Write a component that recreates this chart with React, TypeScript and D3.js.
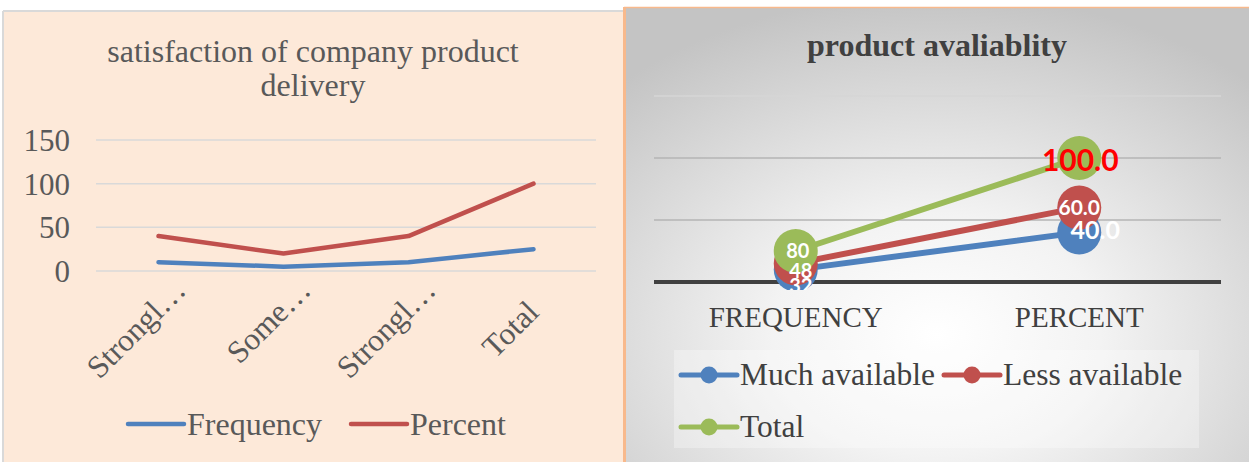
import React from "react";
import * as d3 from "d3";

// ---------- data: left chart ----------
const leftTitleLines = ["satisfaction of company product", "delivery"];
const leftCategories = ["Strongl…", "Some…", "Strongl…", "Total"];
const frequencyValues = [10, 5, 10, 25];
const percentValues = [40, 20, 40, 100];
const leftTicks = [0, 50, 100, 150];
const leftSeriesNames = ["Frequency", "Percent"];

// ---------- data: right chart ----------
const rightTitle = "product avaliablity";
const rightCategories = ["FREQUENCY", "PERCENT"];
const rightSeriesNames = ["Much available", "Less available", "Total"];
const muchAvailable = [10, 40];
const lessAvailable = [15, 60];
const totalAvailable = [25, 100];
const muchLabels = ["32", "40.0"];
const lessLabels = ["48", "60.0"];
const totalLabels = ["80", "100.0"];
const rightTicks = [0, 50, 100, 150];

// ---------- styles ----------
const BLUE = "#4F81BD";
const RED = "#C0504D";
const GREEN = "#9BBB59";
const SERIF = "'Liberation Serif', 'Times New Roman', serif";
const SANS = "Lato, 'Open Sans', sans-serif";

// label styling per series, per point [frequency, percent]
const labelStyles = [
  [{ size: 20, color: "#fff", dx: 5, dy: 16 }, { size: 25, color: "#fff", dx: 16, dy: -2 }],
  [{ size: 20, color: "#fff", dx: 5, dy: 7 }, { size: 21, color: "#fff", dx: 0, dy: 0 }],
  [{ size: 20, color: "#fff", dx: 2, dy: 0 }, { size: 30, color: "#FF0000", dx: 1, dy: 2 }],
];

export default function App() {
  // left scales
  const lx = d3.scaleBand<string>().domain(leftCategories.map((c, i) => i + c)).range([96, 596]);
  const ly = d3.scaleLinear().domain([0, 150]).range([271, 140]);
  const lcx = (i: number) => (lx(i + leftCategories[i]) as number) + lx.bandwidth() / 2;
  const leftLine = d3
    .line<number>()
    .x((_, i) => lcx(i))
    .y((d) => ly(d));
  const leftSeries = [
    { name: leftSeriesNames[0], values: frequencyValues, color: BLUE },
    { name: leftSeriesNames[1], values: percentValues, color: RED },
  ];

  // right scales
  const rx = d3.scaleBand<string>().domain(rightCategories).range([654, 1221]);
  const ry = d3.scaleLinear().domain([0, 150]).range([282, 96]);
  const rcx = (i: number) => (rx(rightCategories[i]) as number) + rx.bandwidth() / 2;
  const rightLine = d3
    .line<number>()
    .x((_, i) => rcx(i))
    .y((d) => ry(d));
  const rightSeries = [
    { name: rightSeriesNames[0], values: muchAvailable, labels: muchLabels, color: BLUE },
    { name: rightSeriesNames[1], values: lessAvailable, labels: lessLabels, color: RED },
    { name: rightSeriesNames[2], values: totalAvailable, labels: totalLabels, color: GREEN },
  ];

  const ellipsisShift = 31 * Math.SQRT1_2;

  return (
    <svg width={1249} height={462} style={{ display: "block", position: "absolute", left: 0, top: 0 }}>
      <defs>
        <radialGradient id="rbg" cx="50%" cy="72%" r="75%" fx="50%" fy="72%">
          <stop offset="0%" stopColor="#ffffff" />
          <stop offset="35%" stopColor="#f3f3f3" />
          <stop offset="100%" stopColor="#c4c4c4" />
        </radialGradient>
        <clipPath id="rclip">
          <rect x={630} y={60} width={610} height={230} />
        </clipPath>
      </defs>

      {/* ---------------- left panel ---------------- */}
      <rect x={0} y={0} width={625} height={462} fill="#ffffff" />
      <rect x={3} y={11} width={622} height={460} fill="#FDE9D9" />
      <line x1={3} x2={625} y1={11} y2={11} stroke="#d9d9d9" strokeWidth={2} />
      <line x1={3} x2={3} y1={11} y2={462} stroke="#d9d9d9" strokeWidth={2} />

      {leftTitleLines.map((t, i) => (
        <text key={i} x={313} y={62 + i * 34} textAnchor="middle" fontFamily={SERIF} fontSize={32} fill="#595959">
          {t}
        </text>
      ))}

      {leftTicks.map((t) => (
        <g key={t}>
          <line x1={96} x2={596} y1={ly(t)} y2={ly(t)} stroke="#d9d9d9" strokeWidth={1.5} />
          <text x={70} y={ly(t)} dy="0.35em" textAnchor="end" fontFamily={SERIF} fontSize={31} fill="#595959">
            {t}
          </text>
        </g>
      ))}

      {leftSeries.map((s) => (
        <path key={s.name} d={leftLine(s.values) as string} fill="none" stroke={s.color} strokeWidth={4.5} strokeLinejoin="round" strokeLinecap="round" />
      ))}

      {leftCategories.map((c, i) => {
        const shift = c.endsWith("…") ? ellipsisShift : 0;
        const ex = lcx(i) + 7 + shift;
        const ey = 314 - shift;
        return (
          <text key={i} transform={`translate(${ex},${ey}) rotate(-45)`} textAnchor="end" fontFamily={SERIF} fontSize={31.5} fill="#595959">
            {c}
          </text>
        );
      })}

      {/* left legend */}
      {leftSeries.map((s, i) => {
        const x0 = 128 + i * 223;
        return (
          <g key={s.name}>
            <line x1={x0} x2={x0 + 56} y1={424} y2={424} stroke={s.color} strokeWidth={4.5} strokeLinecap="round" />
            <text x={x0 + 59} y={435} fontFamily={SERIF} fontSize={32} fill="#595959">
              {s.name}
            </text>
          </g>
        );
      })}

      {/* ---------------- right panel ---------------- */}
      <rect x={624} y={7} width={625} height={455} fill="url(#rbg)" />
      <line x1={624.5} x2={624.5} y1={7} y2={462} stroke="#F8B98C" strokeWidth={3} />
      <line x1={624} x2={1249} y1={7.5} y2={7.5} stroke="#F8B98C" strokeWidth={1.5} />

      <text x={937} y={56} textAnchor="middle" fontFamily={SERIF} fontWeight="bold" fontSize={32} fill="#404040">
        {rightTitle}
      </text>

      {rightTicks.slice(1).map((t) => (
        <line key={t} x1={654} x2={1221} y1={ry(t)} y2={ry(t)} stroke={t === 150 ? "#d6d6d6" : "#b4b4b4"} strokeWidth={1.5} />
      ))}
      <line x1={654} x2={1221} y1={ry(0)} y2={ry(0)} stroke="#404040" strokeWidth={4} />

      <g clipPath="url(#rclip)">
        {rightSeries.map((s) => (
          <g key={s.name}>
            <path d={rightLine(s.values) as string} fill="none" stroke={s.color} strokeWidth={6} strokeLinecap="round" />
            {s.values.map((v, i) => (
              <circle key={i} cx={rcx(i)} cy={ry(v)} r={22} fill={s.color} />
            ))}
          </g>
        ))}
        {rightSeries.map((s, si) =>
          s.values.map((v, i) => {
            const st = labelStyles[si][i];
            return (
              <text
                key={s.name + i}
                x={rcx(i) + st.dx}
                y={ry(v) + st.dy}
                dy="0.36em"
                textAnchor="middle"
                fontFamily={SANS}
                fontWeight="bold"
                fontSize={st.size}
                fill={st.color}
              >
                {s.labels[i]}
              </text>
            );
          })
        )}
      </g>

      {rightCategories.map((c, i) => (
        <text key={c} x={rcx(i)} y={327} textAnchor="middle" fontFamily={SERIF} fontSize={29} fill="#404040">
          {c}
        </text>
      ))}

      {/* right legend */}
      <rect x={674} y={350} width={525} height={98} fill="#ffffff" fillOpacity={0.3} />
      {rightSeries.map((s, i) => {
        const col = i % 2;
        const row = Math.floor(i / 2);
        const x0 = 681 + col * 263;
        const yc = 375 + row * 52;
        return (
          <g key={s.name}>
            <line x1={x0} x2={x0 + 56} y1={yc} y2={yc} stroke={s.color} strokeWidth={5} strokeLinecap="round" />
            <circle cx={x0 + 28} cy={yc} r={8.5} fill={s.color} />
            <text x={x0 + 59} y={yc + 10} fontFamily={SERIF} fontSize={31.5} fill="#404040">
              {s.name}
            </text>
          </g>
        );
      })}
    </svg>
  );
}
